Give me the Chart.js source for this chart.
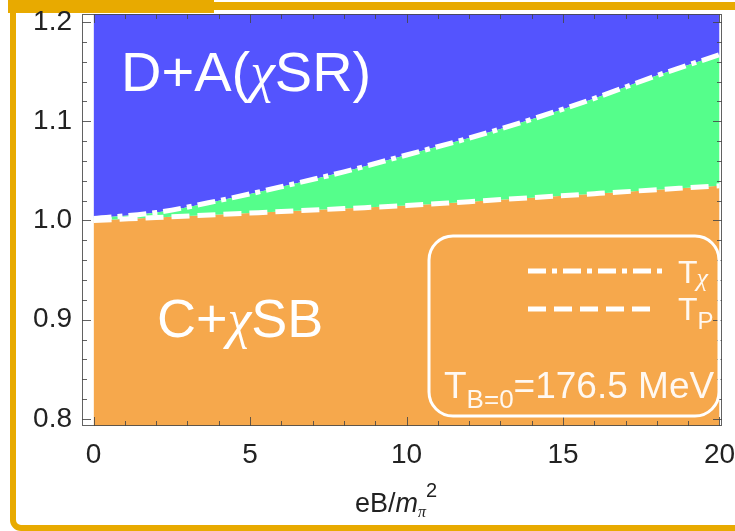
<!DOCTYPE html>
<html>
<head>
<meta charset="utf-8">
<script src="https://cdn.jsdelivr.net/npm/chart.js@4.4.1/dist/chart.umd.min.js"></script>
<style>
  html, body { margin: 0; padding: 0; background: #fff; }
  #wrap { width: 735px; height: 531px; position: relative; }
</style>
</head>
<body>
<div id="wrap"><canvas id="phaseChart"></canvas></div>
<script>
// eB / m_pi^2 sample points
const eB = [0, 2, 4, 6, 8, 10, 12, 14, 16, 18, 20];
// T / T(B=0) for the chiral and Polyakov-loop crossovers
const tChi = [1.002, 1.008, 1.020, 1.034, 1.049, 1.066, 1.083, 1.102, 1.123, 1.146, 1.167];
const tP = [1.000, 1.003, 1.006, 1.009, 1.012, 1.015, 1.019, 1.023, 1.027, 1.031, 1.035];
const xTicks = [0, 5, 10, 15, 20];
const yTicks = [0.8, 0.9, 1.0, 1.1, 1.2];

const SANS = '"Liberation Sans", Arial, sans-serif';
const SERIF = '"Liberation Serif", "Times New Roman", serif';
const blue = '#5454fe';
const green = '#55fe8b';
const orange = '#f6a84c';
const gold = '#e8aa00';

function pts(ys) {
    return eB.map((x, i) => ({ x: x, y: ys[i] }));
}

// draw a run of text pieces with different fonts / offsets
function drawRuns(ctx, x, y, runs) {
    runs.forEach(r => {
        ctx.font = r.font;
        ctx.fillText(r.t, x + (r.dx || 0), y + (r.dy || 0));
        x += ctx.measureText(r.t).width + (r.dx || 0);
    });
}

const framePlugin = {
    id: 'frame',
    beforeDraw(chart) {
        const ctx = chart.ctx;
        ctx.save();
        ctx.fillStyle = gold;
        ctx.fillRect(8, 0, 206, 13);
        ctx.fillRect(214, 2, 521, 8);
        ctx.strokeStyle = gold;
        ctx.lineWidth = 6;
        ctx.beginPath();
        ctx.moveTo(13, 0);
        ctx.lineTo(13, 520);
        ctx.arcTo(13, 528, 21, 528, 8);
        ctx.lineTo(735, 528);
        ctx.stroke();
        ctx.restore();
    },
    afterDatasetsDraw(chart) {
        const ctx = chart.ctx;
        const a = chart.chartArea;
        const xs = chart.scales.x, ys = chart.scales.y;
        ctx.save();
        ctx.strokeStyle = 'rgba(70,70,70,0.85)';
        ctx.lineWidth = 1;
        ctx.strokeRect(a.left + 0.5, a.top + 0.5, a.right - a.left - 1, a.bottom - a.top - 1);
        ctx.beginPath();
        for (let i = 0; i <= 20; i++) {
            const px = Math.round(xs.getPixelForValue(i)) + 0.5;
            const len = i % 5 === 0 ? 9 : 5;
            ctx.moveTo(px, a.bottom); ctx.lineTo(px, a.bottom - len);
            ctx.moveTo(px, a.top); ctx.lineTo(px, a.top + len);
        }
        for (let j = 0; j <= 20; j++) {
            const py = Math.round(ys.getPixelForValue(0.8 + j * 0.02)) + 0.5;
            const len = j % 5 === 0 ? 9 : 5;
            ctx.moveTo(a.left, py); ctx.lineTo(a.left + len, py);
            ctx.moveTo(a.right, py); ctx.lineTo(a.right - len, py);
        }
        ctx.stroke();
        ctx.restore();
    },
    afterDraw(chart) {
        const ctx = chart.ctx;
        ctx.save();
        ctx.fillStyle = '#fff';
        ctx.textBaseline = 'alphabetic';
        // region labels
        drawRuns(ctx, 121, 91, [
            { t: 'D+A(', font: '56px ' + SANS },
            { t: 'χ', font: 'italic 56px ' + SERIF },
            { t: 'SR)', font: '56px ' + SANS }
        ]);
        drawRuns(ctx, 157, 337, [
            { t: 'C+', font: '54px ' + SANS },
            { t: 'χ', font: 'italic 54px ' + SERIF },
            { t: 'SB', font: '54px ' + SANS }
        ]);

        // legend box
        ctx.strokeStyle = '#fff';
        ctx.lineWidth = 3;
        ctx.beginPath();
        ctx.roundRect(429, 236, 290, 180, 24);
        ctx.stroke();

        ctx.lineWidth = 5;
        ctx.setLineDash([18, 6, 5, 6]);
        ctx.beginPath(); ctx.moveTo(528, 271); ctx.lineTo(662, 271); ctx.stroke();
        ctx.setLineDash([18, 8]);
        ctx.beginPath(); ctx.moveTo(528, 309); ctx.lineTo(652, 309); ctx.stroke();
        ctx.setLineDash([]);

        ctx.fillStyle = 'rgba(255,255,255,0.92)';
        drawRuns(ctx, 678, 283, [
            { t: 'T', font: '32px ' + SANS },
            { t: 'χ', font: 'italic 26px ' + SERIF, dy: 3, dx: -1 }
        ]);
        drawRuns(ctx, 678, 320, [
            { t: 'T', font: '32px ' + SANS },
            { t: 'P', font: '24px ' + SANS, dy: 9 }
        ]);
        drawRuns(ctx, 444, 398, [
            { t: 'T', font: '37px ' + SANS },
            { t: 'B=0', font: '26px ' + SANS, dy: 10 },
            { t: '=176.5 MeV', font: '37px ' + SANS }
        ]);

        // x axis title eB/m_pi^2
        ctx.fillStyle = '#222';
        drawRuns(ctx, 355, 512, [
            { t: 'eB/', font: '27px ' + SANS },
            { t: 'm', font: 'italic 27px ' + SANS },
            { t: 'π', font: 'italic 16px ' + SERIF, dy: 5 },
            { t: '2', font: '20px ' + SANS, dy: -15 }
        ]);
        ctx.restore();
    }
};

const ctx = document.getElementById('phaseChart');
const phaseChart = new Chart(ctx, {
    type: 'line',
    data: {
        datasets: [{
            label: 'Tχ',
            data: pts(tChi),
            borderColor: '#fff',
            borderWidth: 5,
            borderDash: [18, 6, 5, 6],
            backgroundColor: green,
            fill: 1,
            pointRadius: 0,
            cubicInterpolationMode: 'monotone'
        }, {
            label: 'TP',
            data: pts(tP),
            borderColor: '#fff',
            borderWidth: 5,
            borderDash: [18, 8],
            backgroundColor: orange,
            fill: 'start',
            pointRadius: 0,
            cubicInterpolationMode: 'monotone'
        }, {
            label: 'D+A',
            data: pts(tChi),
            borderColor: 'rgba(0,0,0,0)',
            borderWidth: 0,
            backgroundColor: blue,
            fill: 'end',
            pointRadius: 0,
            cubicInterpolationMode: 'monotone'
        }]
    },
    options: {
        responsive: true,
        maintainAspectRatio: false,
        animation: false,
        devicePixelRatio: 1,
        layout: { padding: { left: 0, top: 14, right: 13, bottom: 0 } },
        plugins: {
            legend: { display: false },
            tooltip: { enabled: false },
            filler: { drawTime: 'beforeDatasetsDraw' }
        },
        scales: {
            x: {
                type: 'linear',
                min: -0.37,
                max: 20.08,
                grid: { display: false, drawTicks: false },
                border: { display: false },
                afterBuildTicks: s => { s.ticks = xTicks.map(v => ({ value: v })); },
                afterFit: s => { s.height = 105; s.paddingLeft = 0; s.paddingRight = 0; },
                ticks: {
                    padding: 12,
                    color: '#222',
                    autoSkip: false,
                    maxRotation: 0,
                    font: { family: SANS, size: 28 },
                    callback: v => String(v)
                }
            },
            y: {
                min: 0.793,
                max: 1.208,
                grid: { display: false, drawTicks: false },
                border: { display: false },
                afterBuildTicks: s => { s.ticks = yTicks.map(v => ({ value: v })); },
                afterFit: s => { s.width = 82; s.paddingTop = 0; s.paddingBottom = 0; },
                ticks: {
                    padding: 10,
                    color: '#222',
                    font: { family: SANS, size: 28 },
                    callback: v => v.toFixed(1)
                }
            }
        }
    },
    plugins: [framePlugin]
});
</script>
</body>
</html>
